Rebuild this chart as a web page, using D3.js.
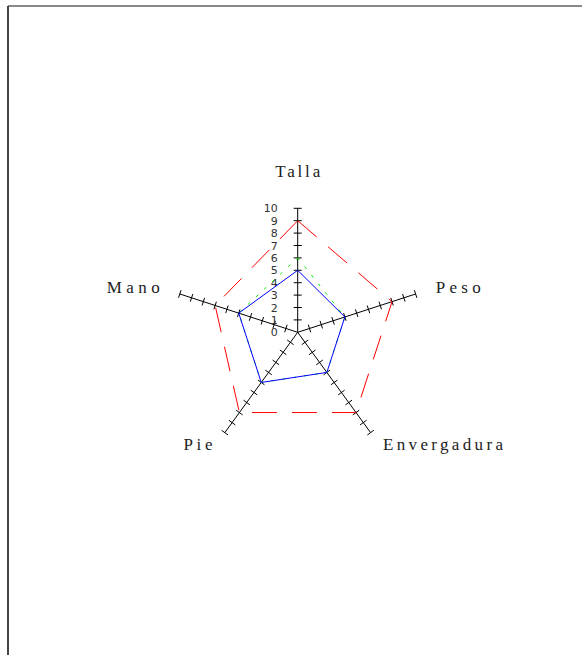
<!DOCTYPE html>
<html lang="es">
<head>
  <meta charset="UTF-8">
  <title>Radar</title>
  <style>
    body { margin: 0; background: #fff; overflow: hidden; }
    .axis-line { stroke: #000; stroke-width: 1px; }
    .tick { stroke: #000; stroke-width: 1px; }
    .num { font-family: "DejaVu Sans", sans-serif; font-size: 11px; fill: #333; }
    .lbl { font-family: "Liberation Serif", serif; font-size: 17px; fill: #222; }
  </style>
</head>
<body>
  <script src="https://d3js.org/d3.v7.min.js"></script>
  <script>
    const axes = ["Talla", "Peso", "Envergadura", "Pie", "Mano"];
    const tickValues = d3.range(0, 11);
    const serieAzul = [5, 4, 4, 5, 5];
    const serieVerde = [6, 4, 4, 5, 5];
    const serieRoja = [9, 8, 8, 8, 7];

    const width = 582, height = 655;
    const cx = 297.7, cy = 332.3;
    const r = d3.scaleLinear().domain([0, 10]).range([0, 124]);
    const angle = i => i * 2 * Math.PI / axes.length;
    const pt = (i, v) => [cx + r(v) * Math.sin(angle(i)), cy - r(v) * Math.cos(angle(i))];

    const svg = d3.select("body").append("svg").attr("width", width).attr("height", height);

    // marco
    svg.append("line").attr("x1", 8).attr("y1", 6).attr("x2", width).attr("y2", 6)
      .attr("stroke", "#888").attr("stroke-width", 2);
    svg.append("line").attr("x1", 8).attr("y1", 6).attr("x2", 8).attr("y2", height)
      .attr("stroke", "#444").attr("stroke-width", 2);

    const g = svg.append("g");

    // ejes con marcas
    axes.forEach((a, i) => {
      const [x2, y2] = pt(i, 10);
      g.append("line").attr("class", "axis-line")
        .attr("x1", cx).attr("y1", cy).attr("x2", x2).attr("y2", y2);
      const px = Math.cos(angle(i)), py = Math.sin(angle(i));
      tickValues.slice(1).forEach(v => {
        const [x, y] = pt(i, v);
        g.append("line").attr("class", "tick")
          .attr("x1", x - 4 * px).attr("y1", y - 4 * py)
          .attr("x2", x + 4 * px).attr("y2", y + 4 * py);
      });
    });

    // números en el eje Talla
    g.selectAll("text.num").data(tickValues).enter().append("text")
      .attr("class", "num")
      .attr("x", cx - 20)
      .attr("y", v => pt(0, v)[1] + 4)
      .attr("text-anchor", "end")
      .text(v => v);

    const line = d3.line().curve(d3.curveLinearClosed);
    const poly = vals => line(vals.map((v, i) => pt(i, v)));

    g.append("path").attr("d", poly(serieRoja)).attr("fill", "none")
      .attr("stroke", "#ff0000").attr("stroke-width", 1).attr("stroke-dasharray", "25,15");
    g.append("path").attr("d", poly(serieVerde)).attr("fill", "none")
      .attr("stroke", "#00ee00").attr("stroke-width", 1).attr("stroke-dasharray", "3,8");
    g.append("path").attr("d", poly(serieAzul)).attr("fill", "none")
      .attr("stroke", "#0000ff").attr("stroke-width", 1);

    // etiquetas de ejes
    const labelWidths = { "Talla": 45, "Peso": 45, "Envergadura": 120, "Pie": 29, "Mano": 53 };
    axes.forEach((a, i) => {
      const [x, y] = pt(i, 11.7);
      const s = Math.sin(angle(i)), c = Math.cos(angle(i));
      const anchor = s > 0.1 ? "start" : s < -0.1 ? "end" : "middle";
      const dy = c > 0.9 ? -10 : c > 0 ? 6 : 0;
      g.append("text").attr("class", "lbl")
        .attr("x", x).attr("y", y + dy)
        .attr("text-anchor", anchor)
        .attr("textLength", labelWidths[a])
        .attr("lengthAdjust", "spacing")
        .text(a);
    });
  </script>
</body>
</html>
